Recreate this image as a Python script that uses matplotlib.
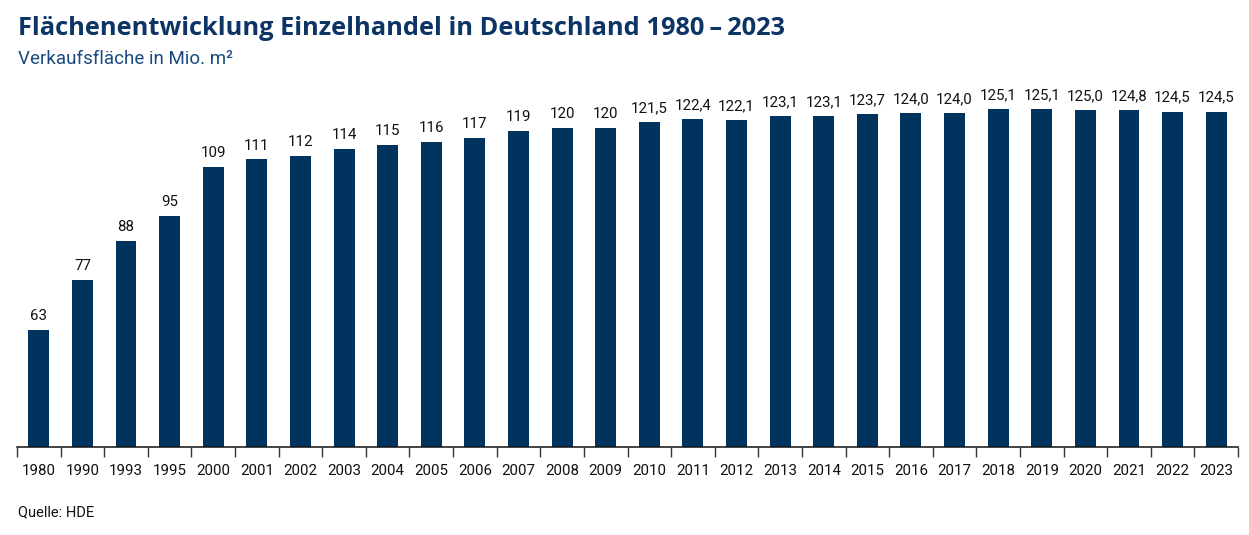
import matplotlib.pyplot as plt
from matplotlib.ticker import FixedLocator

plt.rcParams.update({
    'font.family': ['Roboto', 'DejaVu Sans'],
    'font.size': 10.5,
})

years = ['1980', '1990', '1993', '1995', '2000', '2001', '2002', '2003', '2004',
         '2005', '2006', '2007', '2008', '2009', '2010', '2011', '2012', '2013',
         '2014', '2015', '2016', '2017', '2018', '2019', '2020', '2021', '2022', '2023']
flaeche = [63, 77, 88, 95, 109, 111, 112, 114, 115, 116, 117, 119, 120, 120,
           121.5, 122.4, 122.1, 123.1, 123.1, 123.7, 124.0, 124.0, 125.1, 125.1,
           125.0, 124.8, 124.5, 124.5]

navy = '#00345f'
title_col = '#0c3566'

fig = plt.figure(figsize=(12.49, 5.35), dpi=100)
ax = fig.add_axes([17 / 1249, 88 / 535, 1221 / 1249, 355 / 535])

x = list(range(len(years)))
bars = ax.bar(x, flaeche, width=0.48, color=navy, bottom=0)
ax.set_ylim(30, 130)
ax.set_xlim(-0.5, len(years) - 0.5)

# Beschriftung: ganze Zahlen bis 2009, danach eine Nachkommastelle mit Komma
labels = []
for y, v in zip(years, flaeche):
    if int(y) >= 2010:
        labels.append(f'{v:.1f}'.replace('.', ','))
    else:
        labels.append(f'{v:.0f}')
ax.bar_label(bars, labels=labels, padding=5, fontsize=10.8, color='#111111')

for side in ['top', 'right', 'left']:
    ax.spines[side].set_visible(False)
ax.spines['bottom'].set_linewidth(1.1)
ax.spines['bottom'].set_color('#111111')
ax.set_yticks([])

ax.set_xticks(x)
ax.set_xticklabels(years, fontsize=10.8, color='#111111')
ax.tick_params(axis='x', which='major', length=0, pad=12)
ax.xaxis.set_minor_locator(FixedLocator([i - 0.5 for i in range(len(years) + 1)]))
ax.tick_params(axis='x', which='minor', length=7, width=1, color='#333333')

fig.text(18 / 1249, 1 - 35 / 535, 'Flächenentwicklung Einzelhandel in Deutschland 1980\u2009–\u20092023',
         fontsize=18.3, fontweight='bold', color=title_col, family='Open Sans')
fig.text(18 / 1249, 1 - 64 / 535, 'Verkaufsfläche in Mio. m²',
         fontsize=13.5, color='#1a4a80')
fig.text(18 / 1249, 1 - 516 / 535, 'Quelle: HDE', fontsize=10.5, color='#111111')

fig.savefig('out.png', dpi=100)
